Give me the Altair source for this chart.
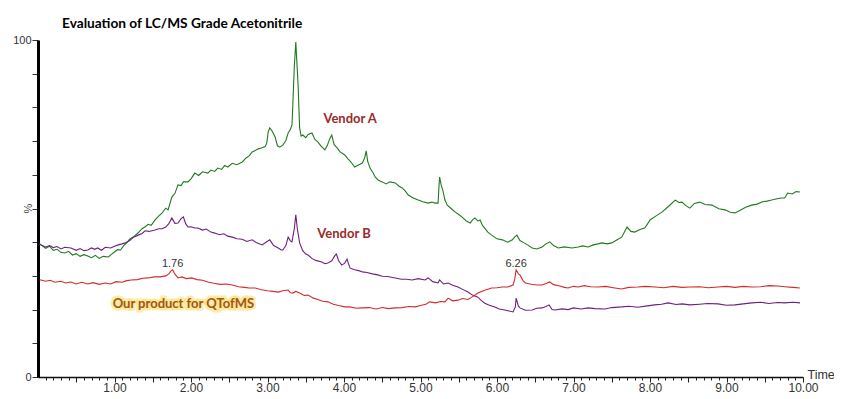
import altair as alt
import pandas as pd

# ---------------- data (time in min, intensity in %) ----------------
a_time = [0.02, 0.04, 0.10, 0.15, 0.20, 0.25, 0.30, 0.35, 0.40, 0.45, 0.50, 0.55, 0.60, 0.65, 0.70, 0.75,
          0.80, 0.85, 0.92, 0.96, 1.00, 1.04, 1.08, 1.12, 1.16, 1.20, 1.25, 1.31, 1.36, 1.40, 1.44, 1.48,
          1.53, 1.58, 1.62, 1.67, 1.70, 1.75, 1.79, 1.83, 1.87, 1.90, 1.96, 2.00, 2.05, 2.10, 2.15, 2.22,
          2.26, 2.31, 2.35, 2.40, 2.44, 2.48, 2.54, 2.60, 2.67, 2.72, 2.76, 2.80, 2.84, 2.88, 2.93, 2.97,
          2.99, 3.01, 3.03, 3.06, 3.10, 3.13, 3.16, 3.20, 3.24, 3.27, 3.30, 3.32, 3.33, 3.35, 3.37, 3.38,
          3.40, 3.42, 3.44, 3.46, 3.50, 3.53, 3.58, 3.62, 3.66, 3.70, 3.75, 3.78, 3.81, 3.84, 3.87, 3.91,
          3.95, 4.01, 4.05, 4.10, 4.14, 4.19, 4.24, 4.27, 4.29, 4.31, 4.34, 4.38, 4.41, 4.45, 4.50, 4.55,
          4.60, 4.67, 4.72, 4.76, 4.80, 4.84, 4.90, 4.97, 5.03, 5.10, 5.15, 5.19, 5.23, 5.24, 5.25, 5.27,
          5.29, 5.32, 5.35, 5.40, 5.45, 5.50, 5.54, 5.60, 5.65, 5.68, 5.71, 5.75, 5.78, 5.81, 5.84, 5.88,
          5.93, 6.00, 6.07, 6.14, 6.20, 6.23, 6.26, 6.30, 6.33, 6.40, 6.46, 6.52, 6.59, 6.64, 6.69, 6.74,
          6.80, 6.88, 6.98, 7.06, 7.12, 7.19, 7.26, 7.32, 7.37, 7.44, 7.50, 7.56, 7.63, 7.70, 7.75, 7.80,
          7.87, 7.93, 7.97, 8.00, 8.08, 8.16, 8.24, 8.33, 8.38, 8.42, 8.46, 8.52, 8.58, 8.65, 8.72, 8.81,
          8.90, 8.98, 9.05, 9.11, 9.18, 9.25, 9.33, 9.40, 9.47, 9.53, 9.59, 9.66, 9.72, 9.76, 9.80, 9.86,
          9.91, 9.96]
a_pct = [39.5, 39.2, 38.2, 38.8, 37.6, 37.9, 37.0, 36.8, 37.3, 36.2, 36.6, 35.8, 36.3, 35.9, 35.4, 36.1,
         35.2, 35.8, 35.6, 36.4, 37.1, 37.8, 37.7, 39.0, 39.8, 41.0, 41.6, 42.8, 44.0, 44.6, 45.3, 45.0,
         46.6, 47.8, 48.6, 50.1, 49.6, 53.4, 54.5, 57.0, 56.8, 57.9, 57.9, 58.8, 60.5, 59.8, 60.9, 60.5,
         61.4, 61.0, 62.0, 61.6, 62.8, 62.3, 63.4, 63.0, 63.8, 65.0, 65.6, 66.8, 67.2, 67.7, 68.0, 68.4,
         69.4, 72.8, 73.9, 73.0, 71.2, 68.6, 68.2, 68.8, 70.2, 72.4, 73.5, 74.8, 80.1, 92.0, 99.4, 95.0,
         86.6, 73.9, 71.5, 71.8, 71.0, 72.0, 72.4, 70.5, 69.7, 68.5, 67.4, 68.6, 70.5, 71.8, 69.0, 68.0,
         66.8, 65.9, 64.8, 63.5, 62.3, 62.9, 63.5, 65.0, 67.1, 64.0, 62.0, 60.6, 59.3, 58.4, 57.9, 57.3,
         57.9, 57.6, 56.6, 56.1, 55.2, 54.0, 53.2, 52.5, 52.0, 51.6, 51.9, 51.6, 51.6, 56.0, 59.3, 57.0,
         55.5, 52.5, 51.0, 50.0, 49.0, 48.2, 47.5, 46.3, 45.7, 46.6, 47.2, 46.3, 46.6, 45.0, 44.2, 43.0,
         42.1, 41.0, 40.7, 40.0, 40.7, 41.5, 42.1, 40.5, 40.1, 39.2, 38.3, 38.0, 38.6, 39.5, 40.1, 39.0,
         38.3, 38.6, 38.3, 38.6, 38.9, 38.6, 39.2, 39.5, 39.8, 39.5, 39.8, 40.6, 41.5, 44.5, 43.2, 43.0,
         43.8, 44.2, 45.5, 46.6, 47.8, 49.0, 50.6, 52.5, 51.8, 51.9, 51.0, 50.1, 51.5, 51.9, 51.2, 51.0,
         49.9, 49.6, 48.9, 48.7, 49.5, 50.4, 51.0, 51.3, 52.0, 52.2, 52.5, 52.9, 53.1, 53.1, 54.6, 54.3,
         55.0, 54.9]

b_time = [0.02, 0.04, 0.10, 0.15, 0.20, 0.25, 0.30, 0.35, 0.43, 0.50, 0.55, 0.60, 0.65, 0.70, 0.74, 0.78,
          0.83, 0.88, 0.95, 1.00, 1.05, 1.10, 1.14, 1.20, 1.25, 1.31, 1.36, 1.40, 1.45, 1.53, 1.58, 1.62,
          1.67, 1.71, 1.75, 1.79, 1.83, 1.87, 1.90, 1.93, 1.96, 2.00, 2.05, 2.09, 2.15, 2.20, 2.26, 2.31,
          2.37, 2.43, 2.48, 2.54, 2.60, 2.67, 2.73, 2.80, 2.86, 2.93, 2.98, 3.03, 3.08, 3.14, 3.18, 3.20,
          3.24, 3.27, 3.30, 3.32, 3.35, 3.37, 3.39, 3.42, 3.46, 3.50, 3.53, 3.58, 3.63, 3.71, 3.75, 3.79,
          3.84, 3.88, 3.90, 3.93, 3.97, 4.01, 4.04, 4.06, 4.08, 4.14, 4.20, 4.24, 4.30, 4.37, 4.44, 4.50,
          4.57, 4.67, 4.75, 4.82, 4.89, 4.97, 5.06, 5.10, 5.16, 5.23, 5.25, 5.30, 5.36, 5.42, 5.49, 5.55,
          5.62, 5.68, 5.75, 5.80, 5.84, 5.90, 5.97, 6.03, 6.10, 6.16, 6.21, 6.24, 6.25, 6.28, 6.30, 6.37,
          6.46, 6.52, 6.59, 6.64, 6.68, 6.72, 6.76, 6.85, 6.93, 7.00, 7.10, 7.19, 7.28, 7.41, 7.50, 7.63,
          7.72, 7.84, 7.97, 8.06, 8.15, 8.24, 8.34, 8.42, 8.52, 8.65, 8.75, 8.89, 9.00, 9.11, 9.22, 9.33,
          9.45, 9.55, 9.67, 9.76, 9.87, 9.96]
b_pct = [39.5, 39.2, 38.6, 39.0, 38.4, 38.7, 38.0, 38.5, 38.3, 37.6, 38.1, 37.5, 37.7, 38.3, 37.9, 38.3,
         37.6, 38.5, 38.3, 38.8, 39.2, 39.5, 39.8, 40.5, 41.5, 42.1, 42.6, 43.4, 43.2, 43.6, 44.0, 44.0,
         44.5, 45.5, 47.2, 45.6, 45.7, 47.0, 47.5, 45.5, 44.5, 44.6, 44.2, 44.2, 43.6, 43.9, 43.0, 42.7,
         42.2, 42.5, 41.8, 41.5, 41.0, 40.9, 40.2, 40.7, 39.8, 39.2, 40.0, 40.7, 39.0, 38.3, 37.7, 37.7,
         39.0, 41.5, 40.4, 40.1, 44.0, 48.1, 44.0, 39.8, 37.5, 36.5, 36.2, 35.2, 34.6, 34.1, 33.6, 33.8,
         34.5, 36.0, 36.5, 34.5, 33.2, 33.8, 35.0, 33.5, 32.3, 31.8, 31.5, 31.2, 31.0, 30.6, 30.3, 29.9,
         29.8, 29.4, 29.0, 29.0, 28.8, 29.2, 28.8, 29.4, 28.3, 27.9, 28.8, 27.6, 27.9, 27.2, 26.7, 26.0,
         25.2, 24.3, 23.7, 22.6, 21.9, 21.3, 20.8, 20.2, 19.9, 19.6, 19.3, 20.8, 23.4, 21.0, 20.5, 19.8,
         19.9, 20.4, 20.5, 20.9, 21.4, 20.0, 19.9, 20.2, 20.0, 20.5, 20.2, 20.5, 20.3, 20.2, 20.6, 20.8,
         21.0, 20.7, 21.1, 21.4, 21.6, 22.0, 21.5, 21.7, 21.4, 21.6, 21.8, 21.7, 21.3, 21.4, 21.7, 22.0,
         22.2, 21.8, 22.1, 22.0, 22.2, 22.0]

c_time = [0.02, 0.04, 0.10, 0.16, 0.22, 0.30, 0.36, 0.43, 0.50, 0.57, 0.65, 0.72, 0.80, 0.88, 0.95, 1.02,
          1.10, 1.16, 1.22, 1.30, 1.37, 1.44, 1.52, 1.60, 1.67, 1.71, 1.74, 1.76, 1.79, 1.83, 1.88, 1.94,
          2.01, 2.08, 2.15, 2.22, 2.30, 2.38, 2.46, 2.54, 2.62, 2.70, 2.76, 2.84, 2.92, 3.00, 3.07, 3.14,
          3.20, 3.27, 3.30, 3.33, 3.37, 3.42, 3.48, 3.53, 3.60, 3.66, 3.72, 3.79, 3.86, 3.93, 4.01, 4.08,
          4.16, 4.24, 4.33, 4.42, 4.50, 4.58, 4.67, 4.76, 4.85, 4.93, 5.00, 5.07, 5.12, 5.20, 5.26, 5.32,
          5.36, 5.42, 5.49, 5.55, 5.62, 5.67, 5.72, 5.75, 5.82, 5.90, 5.93, 6.00, 6.07, 6.14, 6.21, 6.23,
          6.25, 6.28, 6.30, 6.34, 6.37, 6.45, 6.52, 6.59, 6.65, 6.69, 6.74, 6.82, 6.88, 6.93, 7.00, 7.06,
          7.14, 7.22, 7.32, 7.42, 7.52, 7.63, 7.72, 7.84, 7.94, 8.07, 8.18, 8.30, 8.42, 8.52, 8.65, 8.76,
          8.89, 9.00, 9.11, 9.22, 9.33, 9.45, 9.56, 9.67, 9.76, 9.87, 9.96]
c_pct = [28.8, 28.8, 28.4, 28.7, 28.1, 28.4, 27.9, 28.2, 27.6, 28.1, 27.6, 28.0, 27.5, 27.9, 27.6, 28.3,
         28.1, 28.6, 28.8, 28.9, 29.3, 29.4, 29.7, 29.7, 30.0, 30.6, 31.5, 31.8, 30.5, 29.4, 29.7, 29.2,
         29.4, 28.9, 28.7, 28.2, 27.8, 27.5, 27.6, 27.3, 26.8, 26.6, 26.4, 26.4, 25.9, 25.6, 25.4, 25.2,
         25.6, 25.8, 25.0, 24.9, 25.4, 24.9, 24.2, 24.3, 23.4, 23.0, 22.5, 22.3, 21.6, 21.2, 20.8, 20.8,
         20.4, 20.5, 20.6, 20.2, 20.6, 20.3, 20.5, 20.6, 20.9, 20.8, 21.2, 21.6, 22.3, 22.0, 22.4, 22.3,
         23.4, 22.6, 22.8, 23.3, 23.0, 23.7, 24.4, 24.9, 25.6, 26.2, 26.4, 26.5, 26.7, 26.7, 27.3, 28.8,
         31.8, 30.6, 30.3, 28.6, 27.9, 27.5, 27.3, 27.3, 27.8, 28.2, 27.4, 27.0, 26.6, 26.4, 26.9, 26.7,
         27.1, 26.8, 26.7, 26.9, 26.5, 26.1, 26.6, 26.7, 26.9, 26.7, 26.5, 26.9, 26.6, 26.7, 26.8, 26.5,
         26.7, 26.9, 26.6, 26.9, 26.7, 26.8, 27.1, 27.0, 26.8, 26.6, 26.4]

series_names = ["Vendor A", "Vendor B", "Our product for QTofMS"]
series_colors = ["#1f7a1f", "#6e1f80", "#d42a2a"]

x_tick_values = [round(i / 10, 1) for i in range(1, 101)]
y_tick_values = [0, 10, 20, 30, 40, 50, 60, 70, 80, 90, 100]

# annotations
label_text = ["Vendor A", "Vendor B"]
label_time = [4.08, 4.00]
label_pct = [76.6, 42.4]

peak_text = ["1.76", "6.26"]
peak_time = [1.76, 6.25]
peak_pct = [33.6, 33.6]

product_text = ["Our product for QTofMS"]
product_time = [1.90]
product_pct = [21.7]

# ---------------- build tables ----------------
rows = []
for name, ts, vs in zip(series_names, [a_time, b_time, c_time], [a_pct, b_pct, c_pct]):
    for t, v in zip(ts, vs):
        rows.append({"time": t, "pct": v, "series": name})
df = pd.DataFrame(rows)

lab_df = pd.DataFrame({"time": label_time, "pct": label_pct, "txt": label_text})
peak_df = pd.DataFrame({"time": peak_time, "pct": peak_pct, "txt": peak_text})
prod_df = pd.DataFrame({"time": product_time, "pct": product_pct, "txt": product_text})

x_scale = alt.Scale(domain=[0, 10], nice=False, zero=False)
y_scale = alt.Scale(domain=[0, 100], nice=False)

x_axis = alt.Axis(values=x_tick_values, title="Time", titleX=769, titleY=-3,
                  titleAlign="left", titleBaseline="middle", titleFont="Liberation Sans",
                  titleFontSize=12.5, titleFontWeight="normal", titleColor="#333",
                  labelExpr="abs(datum.value - round(datum.value)) < 0.001 ? format(datum.value, '.2f') : ''",
                  labelFont="Liberation Sans", labelFontSize=12, labelColor="#333",
                  labelPadding=0, labelFlush=False, labelOverlap=False,
                  tickSize={"condition": {"test": "abs(datum.value*2 - round(datum.value*2)) < 0.001", "value": 5}, "value": 3},
                  tickColor="#222", tickWidth=1, domainColor="#111", domainWidth=1.5, grid=False)
y_axis = alt.Axis(values=y_tick_values, title="%", titleAngle=270, titleX=-10, titleY=168,
                  titleAlign="center", titleBaseline="middle", titleFont="Liberation Sans",
                  titleFontSize=11, titleFontWeight="normal", titleColor="#444",
                  labelExpr="datum.value == 0 || datum.value == 100 ? datum.label : ''",
                  labelFont="Liberation Sans", labelFontSize=11, labelColor="#333",
                  labelPadding=1, tickSize=6, tickColor="#333", tickWidth=1,
                  domainColor="#000", domainWidth=3, grid=False)

X = alt.X("time:Q", scale=x_scale, axis=x_axis)
Y = alt.Y("pct:Q", scale=y_scale, axis=y_axis)

lines = alt.Chart(df).mark_line(strokeWidth=1.1, interpolate="linear").encode(
    x=X, y=Y,
    color=alt.Color("series:N", scale=alt.Scale(domain=series_names, range=series_colors), legend=None),
)

vendor_labels = alt.Chart(lab_df).mark_text(font="Lato", fontSize=13, fontWeight="bold",
                                            color="#9b2a2a", align="center", baseline="middle").encode(
    x=X, y=Y, text="txt:N",
)

peak_labels = alt.Chart(peak_df).mark_text(font="Liberation Sans", fontSize=11, color="#333",
                                           align="center", baseline="middle").encode(
    x=X, y=Y, text="txt:N",
)

prod_glow = alt.Chart(prod_df).mark_text(font="Lato", fontSize=13, fontWeight="bold",
                                         color="#f7d23a", stroke="#f9dc55", strokeWidth=5,
                                         strokeOpacity=0.6, opacity=0.85,
                                         align="center", baseline="middle").encode(
    x=X, y=Y, text="txt:N",
)

prod_label = alt.Chart(prod_df).mark_text(font="Lato", fontSize=13, fontWeight="bold",
                                          color="#a5541c", align="center", baseline="middle").encode(
    x=X, y=Y, text="txt:N",
)

chart = alt.layer(lines, vendor_labels, peak_labels, prod_glow, prod_label).properties(
    width=765, height=337,
    padding={"left": 30, "top": 32, "right": 31, "bottom": 17},
    autosize=alt.AutoSizeParams(type="none"),
    background="white",
    title=alt.TitleParams("Evaluation of LC/MS Grade Acetonitrile", anchor="start", frame="group",
                          font="Lato", fontSize=13.7, fontWeight="bold", color="#000",
                          dx=24, offset=3),
).configure_view(stroke=None)

chart.save("out.html", embed_options={"renderer": "svg", "actions": False})
